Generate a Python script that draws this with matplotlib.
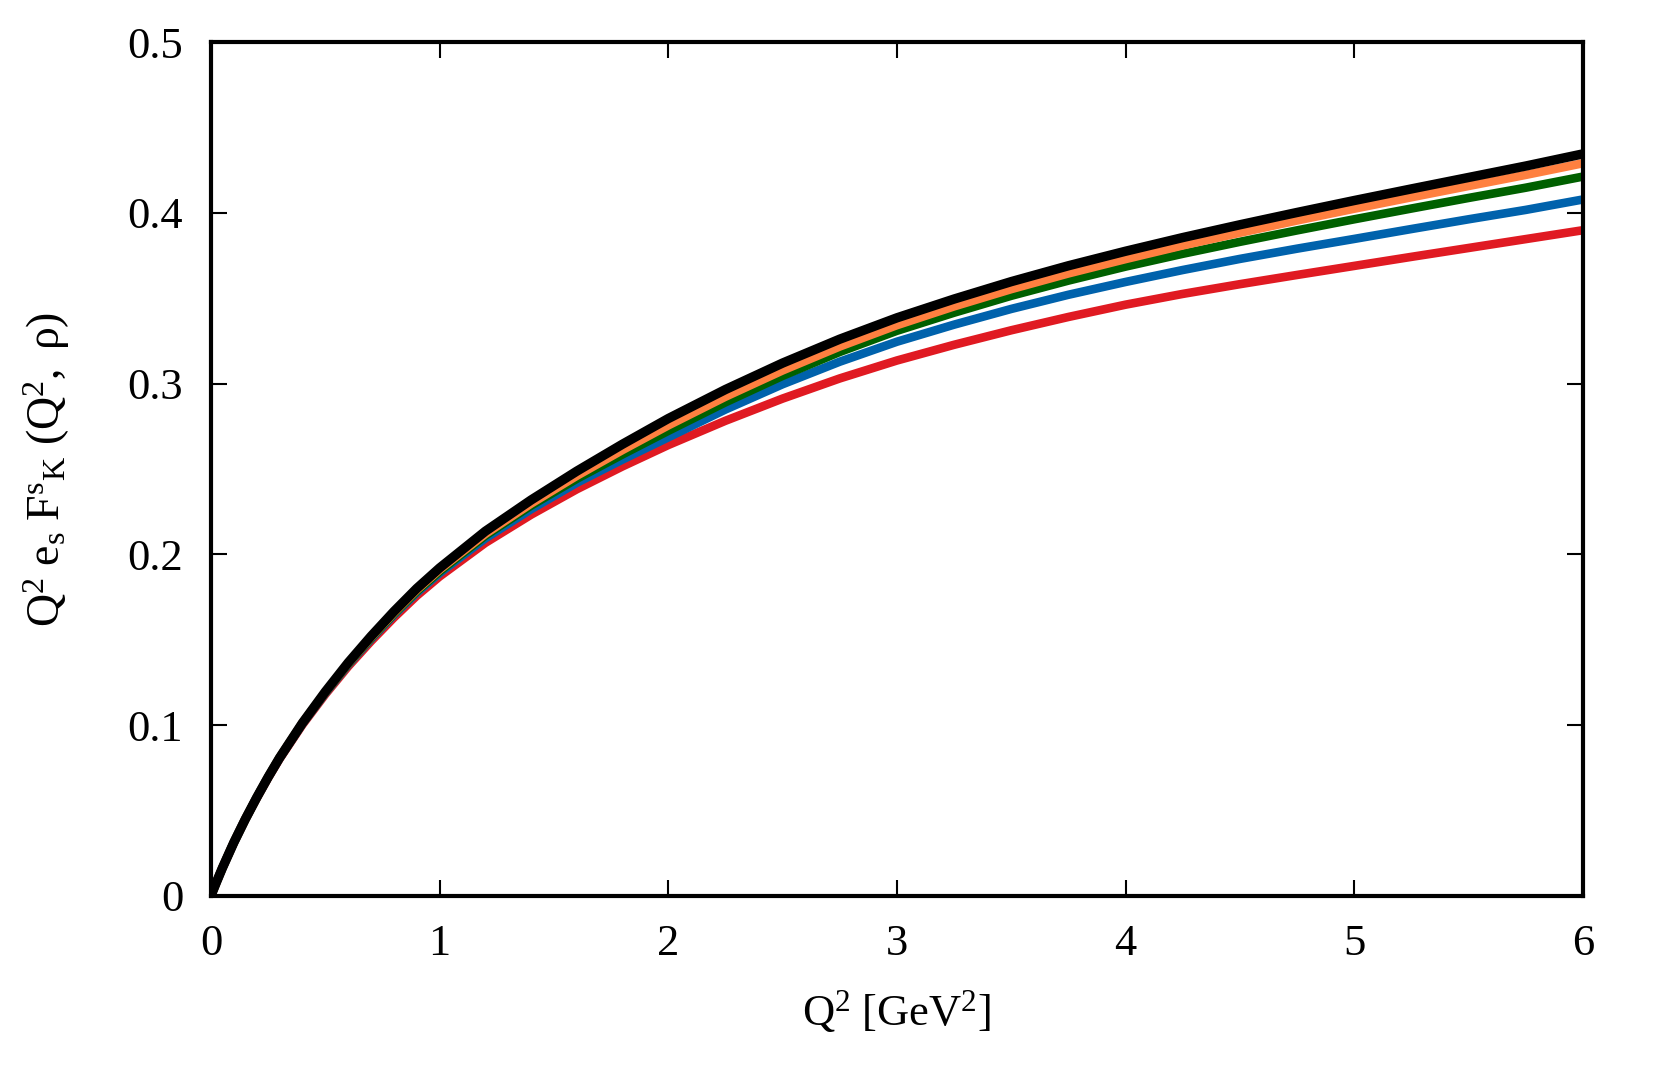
import matplotlib
matplotlib.use("Agg")
import matplotlib.pyplot as plt

plt.rcParams['font.family'] = ['Liberation Serif', 'DejaVu Serif']
plt.rcParams['mathtext.fontset'] = 'custom'
plt.rcParams['mathtext.rm'] = 'Liberation Serif'
plt.rcParams['mathtext.it'] = 'Liberation Serif:italic'

q2 = [0, 0.025, 0.05, 0.1, 0.15, 0.2, 0.25, 0.3, 0.4, 0.5, 0.6, 0.7, 0.8, 0.9, 1.0,
      1.2, 1.4, 1.6, 1.8, 2.0, 2.25, 2.5, 2.75, 3.0, 3.25, 3.5, 3.75, 4.0, 4.25,
      4.5, 4.75, 5.0, 5.25, 5.5, 5.75, 6.0]

black = [0, .0083, .0163, .0312, .0448, .0575, .0695, .0808, .1012, .1195, .1365,
         .1520, .1665, .1800, .1920, .2135, .2318, .2487, .2645, .2795, .2965, .3120,
         .3260, .3385, .3495, .3597, .3690, .3775, .3855, .3930, .4002, .4072, .4140,
         .4207, .4274, .4345]
orange = [0, .0083, .0163, .0312, .0448, .0575, .0695, .0808, .1012, .1192, .1360,
          .1514, .1657, .1791, .1910, .2119, .2297, .2460, .2611, .2755, .2923, .3077,
          .3217, .3342, .3452, .3553, .3645, .3729, .3809, .3883, .3955, .4024, .4091,
          .4157, .4222, .4290]
green = [0, .0083, .0163, .0312, .0448, .0575, .0695, .0808, .1010, .1190, .1357,
         .1509, .1651, .1783, .1900, .2109, .2285, .2442, .2585, .2723, .2890, .3045,
         .3185, .3309, .3415, .3514, .3603, .3685, .3760, .3830, .3897, .3962, .4025,
         .4087, .4147, .4212]
blue = [0, .0083, .0163, .0312, .0448, .0575, .0695, .0806, .1008, .1187, .1353,
        .1504, .1645, .1775, .1890, .2093, .2264, .2419, .2555, .2685, .2848, .2996,
        .3128, .3245, .3345, .3437, .3520, .3595, .3665, .3730, .3790, .3847, .3905,
        .3962, .4017, .4078]
red = [0, .0083, .0163, .0312, .0448, .0572, .0691, .0802, .1002, .1180, .1343,
       .1491, .1629, .1757, .1870, .2067, .2232, .2381, .2515, .2640, .2782, .2912,
       .3030, .3135, .3227, .3312, .3390, .3462, .3525, .3582, .3636, .3689, .3742,
       .3794, .3846, .3898]

series = [(red, '#E01A22'), (blue, '#0062AC'), (green, '#006000'),
          (orange, '#FF8040'), (black, '#000000')]

xticks = [0, 1, 2, 3, 4, 5, 6]
xticklabels = ['0', '1', '2', '3', '4', '5', '6']
yticks = [0, 0.1, 0.2, 0.3, 0.4, 0.5]
yticklabels = ['0', '0.1', '0.2', '0.3', '0.4', '0.5']

fig = plt.figure(figsize=(16.61, 10.78), dpi=100)
ax = fig.add_axes([0.127, 0.169, 0.826, 0.792])

for vals, col in series:
    lw = 6.8 if col == '#000000' else 6.2
    ax.plot(q2, vals, color=col, lw=lw, solid_capstyle='butt', solid_joinstyle='round')

ax.set_xlim(0, 6)
ax.set_ylim(0, 0.5)
ax.set_xticks(xticks)
ax.set_xticklabels(xticklabels)
ax.set_yticks(yticks)
ax.set_yticklabels(yticklabels)

for s in ax.spines.values():
    s.set_linewidth(3.0)
    s.set_zorder(5)

ax.tick_params(direction='in', length=11.5, width=1.5, top=True, right=True,
               labelsize=32, pad=20)

ax.set_xlabel(r'$\mathregular{Q^2\ [GeV^2]}$', fontsize=32, labelpad=18)
ax.set_ylabel(r'$\mathregular{Q^2\ e_s\ F^s{}_K\ (Q^2,\ \rho)}$', fontsize=33, labelpad=40)

fig.savefig('out.png', dpi=100)
